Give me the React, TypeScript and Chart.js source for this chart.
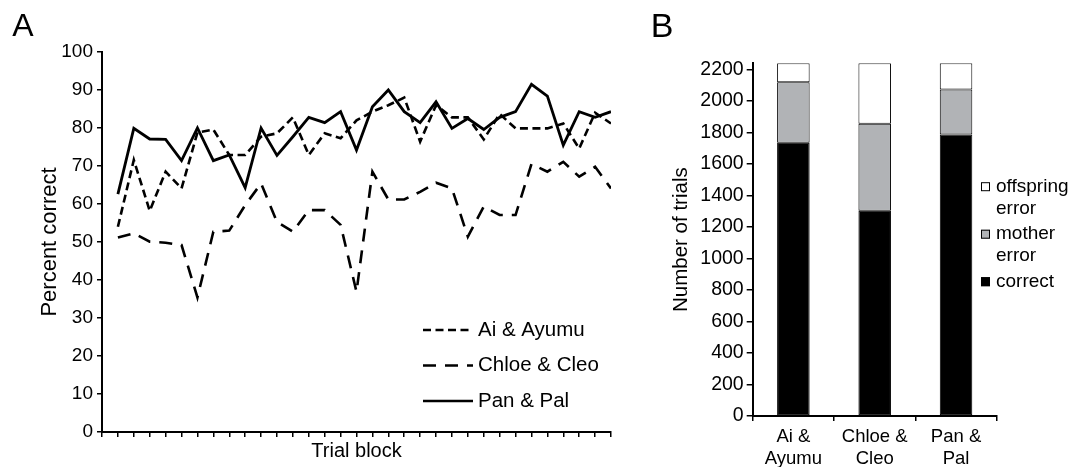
import React, { useEffect, useRef } from 'react';
import { Chart, registerables } from 'chart.js';

Chart.register(...registerables);

const FONT = '"Liberation Sans", Arial, Helvetica, sans-serif';

// ---------- Panel A data ----------
const trialBlocks = [1, 2, 3, 4, 5, 6, 7, 8, 9, 10, 11, 12, 13, 14, 15, 16, 17, 18, 19, 20, 21, 22, 23, 24, 25, 26, 27, 28, 29, 30, 31, 32];
const blockTicks = [0, 1, 2, 3, 4, 5, 6, 7, 8, 9, 10, 11, 12, 13, 14, 15, 16, 17, 18, 19, 20, 21, 22, 23, 24, 25, 26, 27, 28, 29, 30, 31, 32];
const aiAyumu = [54, 71.6, 58.2, 68.5, 64.1, 78.8, 79.6, 72.9, 72.9, 77.7, 78.6, 82.8, 72.9, 78.6, 77.3, 82, 84.3, 86, 88, 76.4, 86, 82.8, 82.8, 77, 83.7, 79.9, 79.9, 79.9, 81.2, 74.6, 84, 81.2];
const chloeCleo = [51.2, 52.3, 50.1, 49.8, 49.2, 35.4, 52.7, 53, 59.7, 65.4, 55.3, 52.7, 58.4, 58.4, 54.5, 36.9, 68.5, 61.2, 61.2, 63.2, 65.6, 64.1, 51.4, 59.3, 57.1, 57.1, 70.5, 68.5, 71.1, 67.2, 69.8, 64.1];
const panPal = [62.6, 79.9, 77.1, 77, 71.4, 80, 71.4, 72.9, 64.3, 80, 72.8, 77.7, 82.8, 81.4, 84.3, 74.2, 85.6, 90, 84.3, 81.4, 86.9, 79.9, 82.5, 79.6, 82.8, 84.3, 91.5, 88.4, 75.5, 84.3, 82.8, 84.3];
const percentTicks = [0, 10, 20, 30, 40, 50, 60, 70, 80, 90, 100];
const seriesNamesA = ['Ai & Ayumu', 'Chloe & Cleo', 'Pan & Pal'];

// ---------- Panel B data ----------
const pairLabels = [['Ai &', 'Ayumu'], ['Chloe &', 'Cleo'], ['Pan &', 'Pal']];
const correctTrials = [1736, 1303, 1788];
const motherErrors = [384, 553, 286];
const offspringErrors = [120, 384, 166];
const trialCountTicks = [0, 200, 400, 600, 800, 1000, 1200, 1400, 1600, 1800, 2000, 2200];
const segmentNames = ['correct', 'mother error', 'offspring error'];

const toPoints = (vals: number[]) => vals.map((v, i) => ({ x: trialBlocks[i], y: v }));

const panelLetter = (letter: string, x: number, y: number, size: number) => ({
  id: 'panelLetter' + letter,
  afterDraw(chart: any) {
    const ctx = chart.ctx;
    ctx.save();
    ctx.fillStyle = '#000';
    ctx.font = `${size}px ${FONT}`;
    ctx.textAlign = 'center';
    ctx.textBaseline = 'middle';
    ctx.fillText(letter, x, y);
    ctx.restore();
  },
});

const legendA = {
  id: 'legendA',
  afterDraw(chart: any) {
    const ctx = chart.ctx;
    ctx.save();
    chart.data.datasets.forEach((ds: any, i: number) => {
      const y = 330 + i * 35.5;
      ctx.strokeStyle = '#000';
      ctx.lineWidth = 2.6;
      ctx.setLineDash(ds.borderDash || []);
      ctx.beginPath();
      ctx.moveTo(423, y);
      ctx.lineTo(473, y);
      ctx.stroke();
      ctx.setLineDash([]);
      ctx.fillStyle = '#000';
      ctx.font = `20.5px ${FONT}`;
      ctx.textAlign = 'left';
      ctx.textBaseline = 'middle';
      ctx.fillText(ds.label, 478, y);
    });
    ctx.restore();
  },
};

const legendB = {
  id: 'legendB',
  afterDraw(chart: any) {
    const ctx = chart.ctx;
    ctx.save();
    let y = 186.7;
    const dsList = [...chart.data.datasets].reverse();
    dsList.forEach((ds: any) => {
      ctx.fillStyle = ds.backgroundColor;
      ctx.fillRect(341, y - 4.5, 9, 9);
      ctx.strokeStyle = '#000';
      ctx.lineWidth = 1;
      ctx.strokeRect(341.5, y - 4, 8, 8);
      const words = String(ds.label).split(' ');
      ctx.fillStyle = '#000';
      ctx.font = `19px ${FONT}`;
      ctx.textAlign = 'left';
      ctx.textBaseline = 'middle';
      words.forEach((w: string, j: number) => {
        ctx.fillText(w, 356, y + j * 22);
      });
      y += words.length * 22 + 3.5;
    });
    ctx.restore();
  },
};

export default function App() {
  const refA = useRef<HTMLCanvasElement>(null);
  const refB = useRef<HTMLCanvasElement>(null);

  useEffect(() => {
    const lineCommon = {
      borderColor: '#000',
      borderWidth: 2.6,
      pointRadius: 0,
      tension: 0,
      fill: false,
    };
    const chartA = new Chart(refA.current as HTMLCanvasElement, {
      type: 'line',
      data: {
        datasets: [
          { ...lineCommon, label: seriesNamesA[0], data: toPoints(aiAyumu), borderDash: [8, 4.5] },
          { ...lineCommon, label: seriesNamesA[1], data: toPoints(chloeCleo), borderDash: [13, 9] },
          { ...lineCommon, label: seriesNamesA[2], data: toPoints(panPal), borderDash: [], borderWidth: 2.8 },
        ],
      },
      options: {
        responsive: false,
        animation: false,
        events: [],
        layout: { padding: { left: 0, top: 52, right: 29, bottom: 0 } },
        plugins: { legend: { display: false }, tooltip: { enabled: false } },
        scales: {
          x: {
            type: 'linear',
            min: 0,
            max: 32,
            afterBuildTicks: (s: any) => {
              s.ticks = blockTicks.map((v) => ({ value: v }));
            },
            afterFit: (s: any) => {
              s.height = 35;
            },
            ticks: { display: false, autoSkip: false },
            grid: { drawOnChartArea: false, drawTicks: true, tickLength: 5, color: '#000', lineWidth: 1.5 },
            border: { display: true, color: '#000', width: 2 },
            title: {
              display: true,
              text: 'Trial block',
              color: '#000',
              font: { family: FONT, size: 20 },
              padding: { top: 0, bottom: 3.5 },
            },
          },
          y: {
            min: 0,
            max: 100,
            afterBuildTicks: (s: any) => {
              s.ticks = percentTicks.map((v) => ({ value: v }));
            },
            afterFit: (s: any) => {
              s.width = 102;
            },
            ticks: { color: '#000', font: { family: FONT, size: 19 }, padding: 4, callback: (v: any) => String(v) },
            grid: { drawOnChartArea: false, drawTicks: true, tickLength: 5, color: '#000', lineWidth: 1.5 },
            border: { display: true, color: '#000', width: 2 },
            title: {
              display: true,
              text: 'Percent correct',
              color: '#000',
              font: { family: FONT, size: 22 },
              padding: { top: 36.8, bottom: 0 },
            },
          },
        },
      },
      plugins: [legendA, panelLetter('A', 23, 27, 32)],
    } as any);

    const barCommon = { borderColor: '#000', borderWidth: 1, borderSkipped: false };
    const chartB = new Chart(refB.current as HTMLCanvasElement, {
      type: 'bar',
      data: {
        labels: pairLabels,
        datasets: [
          { ...barCommon, label: segmentNames[0], data: correctTrials, backgroundColor: '#000000' },
          { ...barCommon, label: segmentNames[1], data: motherErrors, backgroundColor: '#b1b3b6' },
          { ...barCommon, label: segmentNames[2], data: offspringErrors, backgroundColor: '#ffffff' },
        ],
      },
      options: {
        responsive: false,
        animation: false,
        events: [],
        layout: { padding: { left: 0, top: 63.3, right: 86.3, bottom: 0 } },
        plugins: { legend: { display: false }, tooltip: { enabled: false } },
        datasets: { bar: { categoryPercentage: 1, barPercentage: 0.4 } },
        scales: {
          x: {
            stacked: true,
            offset: true,
            afterFit: (s: any) => {
              s.height = 51;
            },
            ticks: {
              color: '#000',
              font: { family: FONT, size: 18.5, lineHeight: 1.17 },
              padding: 5,
              maxRotation: 0,
              autoSkip: false,
            },
            grid: { offset: true, drawOnChartArea: false, drawTicks: true, tickLength: 5, color: '#000', lineWidth: 1.5 },
            border: { display: true, color: '#000', width: 2 },
          },
          y: {
            stacked: true,
            min: 0,
            max: 2240,
            afterBuildTicks: (s: any) => {
              s.ticks = trialCountTicks.map((v) => ({ value: v }));
            },
            afterFit: (s: any) => {
              s.width = 112.7;
            },
            ticks: { color: '#000', font: { family: FONT, size: 19.5 }, padding: 3, callback: (v: any) => String(v) },
            grid: { drawOnChartArea: false, drawTicks: true, tickLength: 6, color: '#000', lineWidth: 1.5 },
            border: { display: true, color: '#000', width: 2 },
            title: {
              display: true,
              text: 'Number of trials',
              color: '#000',
              font: { family: FONT, size: 20.5 },
              padding: { top: 29.4, bottom: 0 },
            },
          },
        },
      },
      plugins: [legendB, panelLetter('B', 22, 27.5, 34)],
    } as any);

    return () => {
      chartA.destroy();
      chartB.destroy();
    };
  }, []);

  return (
    <div style={{ position: 'absolute', left: 0, top: 0, width: 1083, height: 467, background: '#fff', overflow: 'hidden' }}>
      <canvas ref={refA} width={640} height={467} style={{ position: 'absolute', left: 0, top: 0, width: 640, height: 467 }} />
      <canvas ref={refB} width={443} height={467} style={{ position: 'absolute', left: 640, top: 0, width: 443, height: 467 }} />
    </div>
  );
}
